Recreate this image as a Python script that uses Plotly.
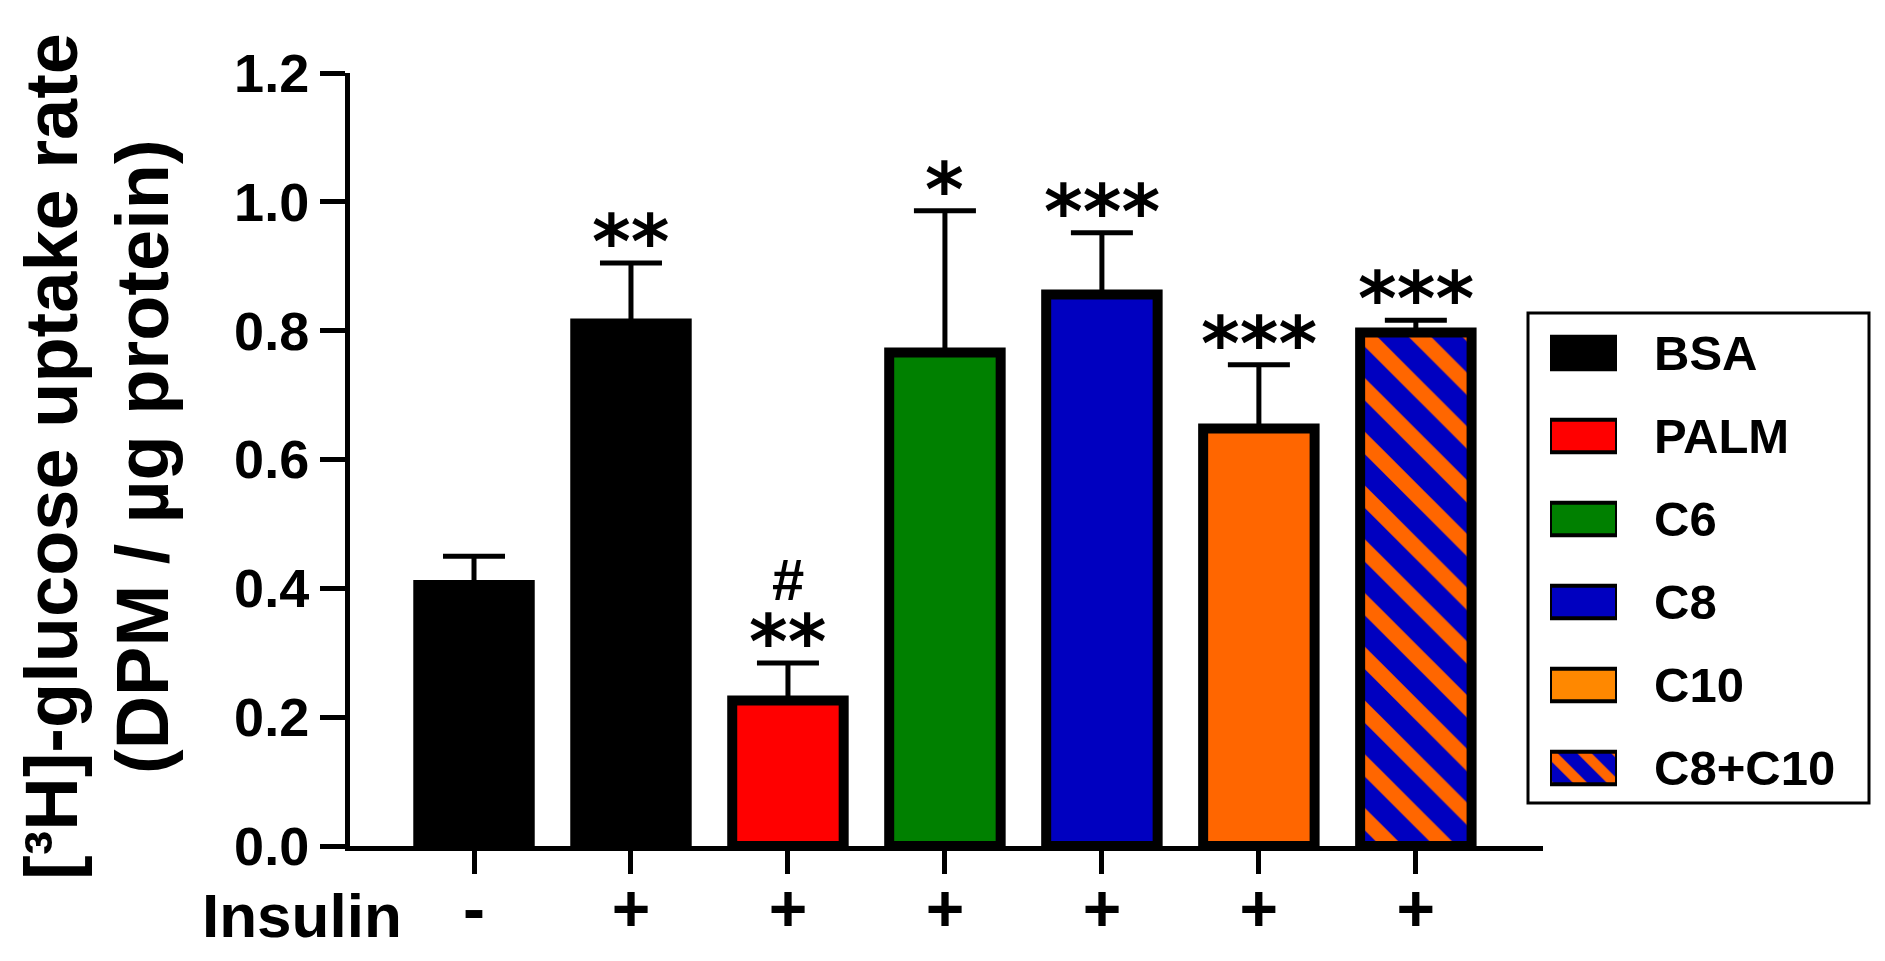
import plotly.graph_objects as go

# ---- data ----
groups = ["BSA", "BSA", "PALM", "C6", "C8", "C10", "C8+C10"]
insulin = ["-", "+", "+", "+", "+", "+", "+"]
uptake = [0.405, 0.811, 0.226, 0.766, 0.856, 0.648, 0.797]
sem = [0.045, 0.094, 0.058, 0.220, 0.096, 0.099, 0.019]
stars = ["", "**", "**", "*", "***", "***", "***"]
hashes = ["", "", "#", "", "", "", ""]
legend_names = ["BSA", "PALM", "C6", "C8", "C10", "C8+C10"]
y_ticks = [0.0, 0.2, 0.4, 0.6, 0.8, 1.0, 1.2]
y_title = ["[³H]-glucose uptake rate", "(DPM / µg protein)"]

# ---- styles ----
group_color = {"BSA": "#000000", "PALM": "#ff0000", "C6": "#008000",
               "C8": "#0000c0", "C10": "#ff6600", "C8+C10": "#0000c0"}
legend_color = {"BSA": "#000000", "PALM": "#ff0000", "C6": "#008000",
                "C8": "#0000c0", "C10": "#ff8800", "C8+C10": "#0000c0"}
striped = {"C8+C10"}
ORANGE = "#ff6600"
BLUE = "#0000c0"
FONT = "Liberation Sans"

W, H = 1885, 961
ML, MR, MT, MB = 350, 10, 73, 115
pw = W - ML - MR
ph = H - MT - MB


def px(x):
    return (x - ML) / pw


def py(y):
    return (H - MB - y) / ph


x_idx = list(range(len(uptake)))
solid_i = [i for i, g in enumerate(groups) if g not in striped]
stripe_i = [i for i, g in enumerate(groups) if g in striped]

err_style = dict(type="data", symmetric=False, color="black", thickness=5, width=31)

fig = go.Figure()
fig.add_trace(go.Bar(
    x=[x_idx[i] for i in solid_i], y=[uptake[i] for i in solid_i], width=0.71,
    marker=dict(color=[group_color[groups[i]] for i in solid_i],
                line=dict(color="black", width=10)),
    error_y=dict(array=[sem[i] for i in solid_i], arrayminus=[0] * len(solid_i),
                 **err_style),
    showlegend=False, xaxis="x", yaxis="y",
))
fig.add_trace(go.Bar(
    x=[x_idx[i] for i in stripe_i], y=[uptake[i] for i in stripe_i], width=0.71,
    marker=dict(color=BLUE, line=dict(color="black", width=10),
                pattern=dict(shape="\\", fgcolor=ORANGE, bgcolor=BLUE,
                             fgopacity=1, size=38, solidity=0.42,
                             fillmode="replace")),
    error_y=dict(array=[sem[i] for i in stripe_i], arrayminus=[0] * len(stripe_i),
                 **err_style),
    showlegend=False, xaxis="x", yaxis="y",
))

# custom legend swatches drawn as bar traces on their own axes
leg_solid = [n for n in legend_names if n not in striped]
leg_stripe = [n for n in legend_names if n in striped]
fig.add_trace(go.Bar(
    x=[1] * len(leg_solid), y=leg_solid, orientation="h", width=0.39,
    marker=dict(color=[legend_color[n] for n in leg_solid],
                line=dict(color="black", width=4)),
    showlegend=False, xaxis="x2", yaxis="y2", hoverinfo="skip",
))
fig.add_trace(go.Bar(
    x=[1] * len(leg_stripe), y=leg_stripe, orientation="h", width=0.39,
    marker=dict(color=BLUE, line=dict(color="black", width=4),
                pattern=dict(shape="\\", fgcolor=ORANGE, bgcolor=BLUE,
                             fgopacity=1, size=24, solidity=0.42,
                             fillmode="replace")),
    showlegend=False, xaxis="x2", yaxis="y2", hoverinfo="skip",
))

annotations = []
for i, (v, e, s, h) in enumerate(zip(uptake, sem, stars, hashes)):
    if s:
        annotations.append(dict(x=i, y=v + e, xref="x", yref="y", text=s,
                                showarrow=False, yanchor="middle", yshift=21,
                                font=dict(family="DejaVu Sans", size=74,
                                          color="black", weight="bold")))
    if h:
        annotations.append(dict(x=i, y=v + e, xref="x", yref="y", text=h,
                                showarrow=False, yanchor="middle", yshift=84,
                                font=dict(family=FONT, size=58,
                                          color="black", weight="bold")))

for line, cx in zip(y_title, [52, 143]):
    annotations.append(dict(
        x=px(cx), y=py(457), xref="paper", yref="paper", text=line,
        textangle=-90, showarrow=False, xanchor="center", yanchor="middle",
        font=dict(family=FONT, size=74, color="black", weight="bold")))
annotations.append(dict(
    x=px(302), y=py(915), xref="paper", yref="paper", text="Insulin",
    showarrow=False, xanchor="center", yanchor="middle",
    font=dict(family=FONT, size=62, color="black", weight="bold")))

shapes = [dict(type="rect", xref="paper", yref="paper",
               x0=px(1528), x1=px(1869), y0=py(803), y1=py(313),
               line=dict(color="black", width=3), fillcolor="rgba(0,0,0,0)")]

fig.update_layout(
    width=W, height=H, margin=dict(l=ML, r=MR, t=MT, b=MB),
    paper_bgcolor="white", plot_bgcolor="white",
    font=dict(family=FONT, color="black", weight="bold"),
    barmode="overlay",
    xaxis=dict(domain=[0, px(1543)], range=[-0.79, 6.81],
               tickmode="array", tickvals=x_idx, ticktext=insulin,
               showline=True, linecolor="black", linewidth=5,
               ticks="outside", ticklen=23, tickwidth=5, tickcolor="black",
               showgrid=False, zeroline=False, ticklabelstandoff=-22,
               tickfont=dict(family=FONT, size=66, color="black", weight="bold")),
    yaxis=dict(range=[0, 1.2], tickmode="array", tickvals=y_ticks,
               ticktext=[f"{t:.1f}" for t in y_ticks],
               showline=True, linecolor="black", linewidth=5,
               ticks="outside", ticklen=25, tickwidth=5, tickcolor="black",
               showgrid=False, zeroline=False,
               tickfont=dict(family=FONT, size=54, color="black", weight="bold")),
    xaxis2=dict(domain=[px(1550), px(1617)], range=[0, 1], visible=False,
                anchor="y2", fixedrange=True),
    yaxis2=dict(domain=[py(809.5), py(311.5)], anchor="x2", side="right",
                categoryorder="array", categoryarray=legend_names,
                range=[5.5, -0.5], showline=False, showgrid=False,
                zeroline=False, ticks="", ticklabelstandoff=36,
                tickfont=dict(family=FONT, size=49, color="black", weight="bold")),
    annotations=annotations, shapes=shapes,
)

fig.write_html("out.html", config={"displayModeBar": False},
               post_script="document.body.style.margin='0';")
